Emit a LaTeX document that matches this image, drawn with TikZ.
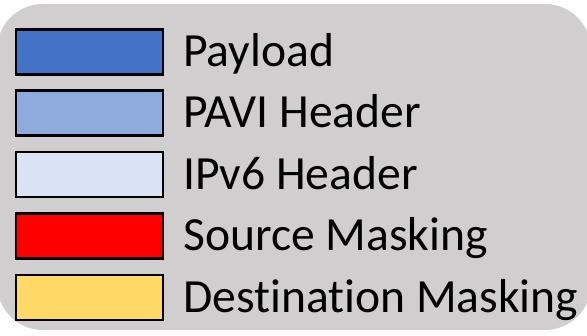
\documentclass[tikz,border=0pt]{standalone}
\usepackage{fontspec}
\setmainfont[Ligatures={NoCommon}]{Carlito}
\definecolor{panelgrey}{HTML}{D0CECE}
\definecolor{payloadblue}{HTML}{4472C4}
\definecolor{pavi}{HTML}{8FAADC}
\definecolor{ipvsix}{HTML}{DAE3F3}
\definecolor{srcmask}{HTML}{FF0000}
\definecolor{dstmask}{HTML}{FFD966}
\tikzset{
  x=1pt, y=-1pt,
  swatch/.style={draw=black, line width=2.6pt, minimum width=147pt, minimum height=45pt, inner sep=0pt, anchor=center},
  legendtext/.style={anchor=base west, inner sep=0pt, font=\fontsize{47.6}{52}\selectfont, text=black}
}
\begin{document}
\begin{tikzpicture}
  \useasboundingbox (0,0) rectangle (587,336);
  % rounded panel behind the legend
  \fill[panelgrey, rounded corners=46pt] (-3,4) rectangle (591,330);
  % colour swatches
  \node[swatch, fill=payloadblue] (s1) at (89.5,52) {};
  \node[swatch, fill=pavi]        (s2) at (89.5,113) {};
  \node[swatch, fill=ipvsix]      (s3) at (89.5,174.5) {};
  \node[swatch, fill=srcmask]     (s4) at (89.5,236) {};
  \node[swatch, fill=dstmask]     (s5) at (89.5,297.5) {};
  % labels
  \node[legendtext] (t1) at (183,67) {Payload};
  \node[legendtext] (t2) at (183,128) {PAVI Header};
  \node[legendtext] (t3) at (183,189.5) {IPv6 Header};
  \node[legendtext] (t4) at (183,251) {Source Masking};
  \node[legendtext] (t5) at (183,313) {Destination Masking};
\end{tikzpicture}
\end{document}
